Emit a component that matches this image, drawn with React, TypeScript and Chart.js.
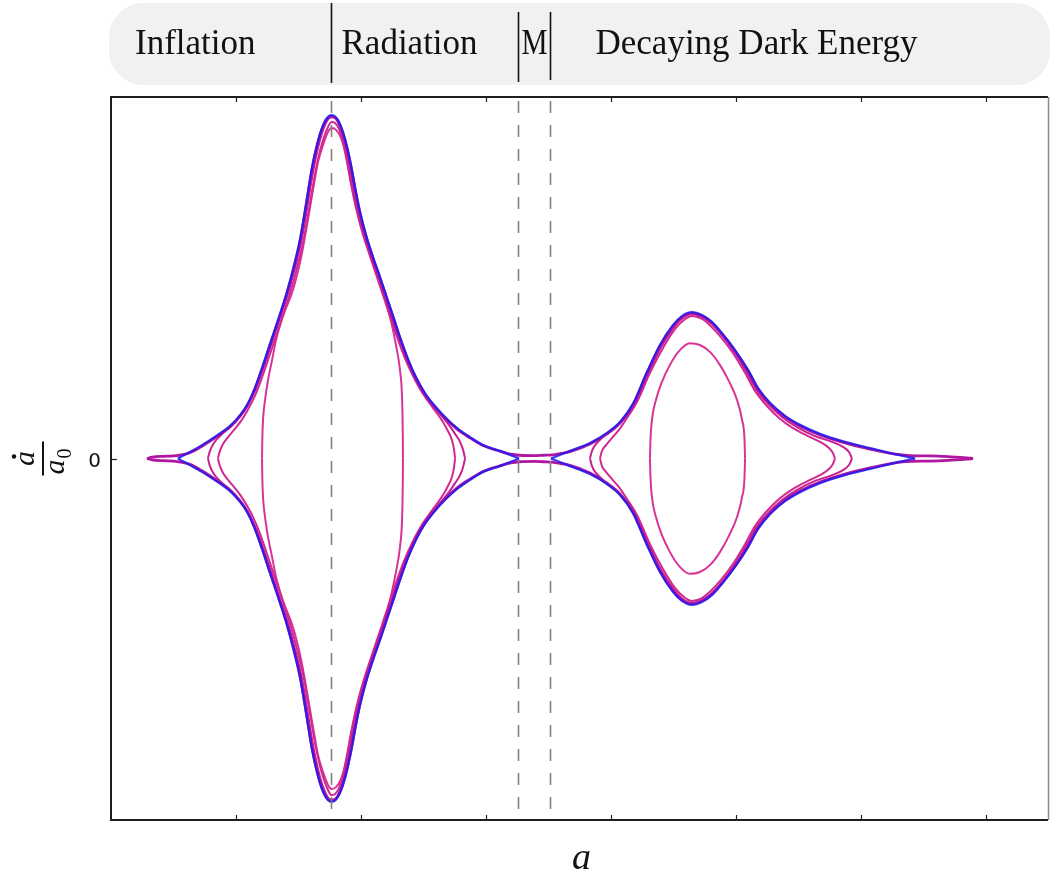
import { useEffect, useRef } from 'react';
import { Chart, registerables } from 'chart.js';

Chart.register(...registerables);

// Era labels shown in the banner above the plot and the boundaries between eras (in units of a)
const eraLabels = ['Inflation', 'Radiation', 'M', 'Decaying Dark Energy'];
const eraBoundaries = [1.762, 3.258, 3.514];

// Tick positions (unlabelled on x)
const xTicks = [1, 2, 3, 4, 5, 6, 7];
const yTicks = [0];
const yTickLabels = ['0'];

// Upper halves (ȧ >= 0) of the phase-space trajectories, a increasing; each is mirrored for ȧ < 0.
// Separatrix around the inflation/radiation hump
const separatrixEarly: number[][] = [
  [0.536, 0], [0.632, 0.018], [0.728, 0.037], [0.84, 0.062], [0.953, 0.09], [1.033, 0.12],
  [1.089, 0.148], [1.145, 0.189], [1.209, 0.25], [1.273, 0.317], [1.345, 0.391], [1.409, 0.461],
  [1.465, 0.533], [1.513, 0.605], [1.545, 0.668], [1.577, 0.737], [1.609, 0.804], [1.641, 0.856],
  [1.673, 0.898], [1.705, 0.928], [1.737, 0.945], [1.765, 0.95], [1.797, 0.945], [1.829, 0.928],
  [1.861, 0.898], [1.893, 0.856], [1.925, 0.804], [1.957, 0.743], [1.993, 0.682], [2.041, 0.618],
  [2.097, 0.557], [2.153, 0.502], [2.209, 0.444], [2.265, 0.386], [2.321, 0.328], [2.377, 0.275],
  [2.441, 0.225], [2.513, 0.181], [2.593, 0.145], [2.681, 0.112], [2.778, 0.082], [2.874, 0.059],
  [2.978, 0.037], [3.114, 0.021], [3.194, 0.01], [3.266, 0],
];
// Separatrix around the dark-energy hump
const separatrixLate: number[][] = [
  [3.522, 0], [3.674, 0.021], [3.834, 0.043], [3.97, 0.071], [4.074, 0.101], [4.178, 0.151],
  [4.29, 0.239], [4.394, 0.314], [4.498, 0.369], [4.57, 0.394], [4.65, 0.405], [4.73, 0.397],
  [4.81, 0.378], [4.89, 0.347], [4.995, 0.3], [5.099, 0.245], [5.179, 0.195], [5.275, 0.154],
  [5.395, 0.118], [5.515, 0.093], [5.675, 0.068], [5.875, 0.046], [6.075, 0.029], [6.276, 0.012],
  [6.436, 0],
];
// Trajectory at the separatrix energy that runs through every era
const fullHistory: number[][] = [
  [0.288, 0], [0.33, 0.004], [0.42, 0.006], [0.5, 0.007], [0.56, 0.01], [0.632, 0.016],
  [0.728, 0.034], [0.84, 0.059], [0.953, 0.087], [1.033, 0.117], [1.089, 0.145], [1.145, 0.186],
  [1.209, 0.247], [1.273, 0.314], [1.345, 0.388], [1.409, 0.458], [1.465, 0.53], [1.513, 0.602],
  [1.545, 0.665], [1.577, 0.734], [1.609, 0.801], [1.641, 0.853], [1.673, 0.895], [1.705, 0.925],
  [1.737, 0.942], [1.765, 0.947], [1.797, 0.942], [1.829, 0.925], [1.861, 0.895], [1.893, 0.853],
  [1.925, 0.801], [1.957, 0.74], [1.993, 0.679], [2.041, 0.615], [2.097, 0.554], [2.153, 0.499],
  [2.209, 0.441], [2.265, 0.383], [2.321, 0.325], [2.377, 0.272], [2.441, 0.222], [2.513, 0.178],
  [2.593, 0.142], [2.681, 0.109], [2.778, 0.079], [2.874, 0.057], [2.978, 0.036], [3.114, 0.02],
  [3.2, 0.012], [3.27, 0.009], [3.39, 0.008], [3.46, 0.009], [3.53, 0.01], [3.6, 0.014],
  [3.674, 0.019], [3.834, 0.04], [3.97, 0.068], [4.074, 0.098], [4.178, 0.148], [4.29, 0.236],
  [4.394, 0.311], [4.498, 0.366], [4.57, 0.391], [4.65, 0.402], [4.73, 0.394], [4.81, 0.375],
  [4.89, 0.344], [4.995, 0.297], [5.099, 0.242], [5.179, 0.192], [5.275, 0.151], [5.395, 0.115],
  [5.515, 0.09], [5.675, 0.065], [5.875, 0.043], [6.075, 0.026], [6.276, 0.012], [6.4, 0.008],
  [6.55, 0.007], [6.7, 0.005], [6.85, 0.002], [6.9, 0],
];
// Bound orbits inside the early hump
const earlyOrbitA: number[][] = [
  [0.776, 0], [0.792, 0.021], [0.824, 0.043], [0.872, 0.062], [0.937, 0.084], [1.001, 0.104],
  [1.057, 0.129], [1.105, 0.156], [1.161, 0.195], [1.225, 0.256], [1.289, 0.322], [1.361, 0.397],
  [1.425, 0.466], [1.481, 0.538], [1.529, 0.61], [1.561, 0.674], [1.593, 0.743], [1.625, 0.806],
  [1.657, 0.859], [1.689, 0.9], [1.721, 0.928], [1.749, 0.942], [1.765, 0.943], [1.781, 0.943],
  [1.813, 0.934], [1.845, 0.906], [1.877, 0.862], [1.909, 0.809], [1.941, 0.748], [1.977, 0.687],
  [2.025, 0.624], [2.081, 0.563], [2.137, 0.505], [2.193, 0.447], [2.249, 0.389], [2.305, 0.331],
  [2.361, 0.278], [2.425, 0.228], [2.497, 0.184], [2.569, 0.151], [2.641, 0.12], [2.705, 0.093],
  [2.754, 0.068], [2.794, 0.046], [2.818, 0.024], [2.834, 0],
];
const earlyOrbitB: number[][] = [
  [0.856, 0], [0.872, 0.021], [0.897, 0.04], [0.937, 0.059], [0.985, 0.079], [1.041, 0.104],
  [1.089, 0.131], [1.137, 0.162], [1.185, 0.201], [1.241, 0.256], [1.305, 0.322], [1.377, 0.397],
  [1.441, 0.466], [1.497, 0.538], [1.545, 0.61], [1.577, 0.674], [1.609, 0.74], [1.641, 0.801],
  [1.673, 0.851], [1.705, 0.889], [1.737, 0.917], [1.765, 0.931], [1.793, 0.928], [1.825, 0.912],
  [1.857, 0.873], [1.889, 0.82], [1.921, 0.759], [1.961, 0.693], [2.009, 0.629], [2.065, 0.568],
  [2.121, 0.51], [2.177, 0.452], [2.233, 0.394], [2.289, 0.336], [2.345, 0.284], [2.409, 0.234],
  [2.473, 0.192], [2.537, 0.159], [2.601, 0.129], [2.657, 0.101], [2.697, 0.076], [2.729, 0.051],
  [2.745, 0.026], [2.754, 0],
];
const earlyOrbitC: number[][] = [
  [1.209, 0], [1.211, 0.051], [1.217, 0.107], [1.233, 0.162], [1.257, 0.217], [1.289, 0.272],
  [1.321, 0.328], [1.377, 0.394], [1.457, 0.467], [1.521, 0.555], [1.569, 0.646], [1.617, 0.743],
  [1.657, 0.82], [1.697, 0.867], [1.737, 0.903], [1.765, 0.914], [1.801, 0.909], [1.841, 0.887],
  [1.881, 0.842], [1.913, 0.781], [1.961, 0.698], [2.025, 0.621], [2.081, 0.56], [2.137, 0.502],
  [2.193, 0.441], [2.241, 0.38], [2.281, 0.314], [2.313, 0.245], [2.329, 0.176], [2.334, 0.107],
  [2.336, 0.051], [2.337, 0],
];
// Bound orbits inside the late hump
const lateOrbitA: number[][] = [
  [3.834, 0], [3.85, 0.021], [3.882, 0.04], [3.93, 0.057], [3.994, 0.076], [4.082, 0.101],
  [4.186, 0.148], [4.298, 0.234], [4.402, 0.308], [4.506, 0.363], [4.578, 0.389], [4.65, 0.4],
  [4.73, 0.392], [4.81, 0.372], [4.89, 0.342], [4.986, 0.297], [5.083, 0.242], [5.163, 0.192],
  [5.259, 0.151], [5.371, 0.115], [5.491, 0.087], [5.635, 0.062], [5.771, 0.046], [5.859, 0.032],
  [5.907, 0.018], [5.931, 0],
];
const lateOrbitB: number[][] = [
  [3.914, 0], [3.93, 0.021], [3.962, 0.037], [4.01, 0.057], [4.066, 0.079], [4.13, 0.112],
  [4.21, 0.156], [4.314, 0.237], [4.418, 0.306], [4.514, 0.358], [4.586, 0.383], [4.65, 0.394],
  [4.73, 0.386], [4.802, 0.366], [4.882, 0.336], [4.978, 0.292], [5.075, 0.237], [5.155, 0.187],
  [5.243, 0.148], [5.347, 0.112], [5.459, 0.084], [5.579, 0.062], [5.675, 0.046], [5.747, 0.029],
  [5.779, 0.015], [5.795, 0],
];
const lateOrbitC: number[][] = [
  [4.314, 0], [4.318, 0.051], [4.33, 0.107], [4.362, 0.162], [4.41, 0.212], [4.474, 0.259],
  [4.546, 0.297], [4.634, 0.319], [4.714, 0.314], [4.794, 0.295], [4.874, 0.259], [4.946, 0.214],
  [5.011, 0.162], [5.051, 0.107], [5.071, 0.051], [5.075, 0],
];

type P = { x: number; y: number };
const upperHalf = (a: number[][]): P[] => a.map(([x, y]) => ({ x, y }));
const lowerHalf = (a: number[][]): P[] => a.map(([x, y]) => ({ x, y: -y }));

const BLUE = 'rgba(34,26,240,0.85)';
const DEEP = 'rgb(176,22,160)';
const PINK_A = 'rgb(200,32,146)';
const PINK_B = 'rgb(210,40,146)';
const PINK_C = 'rgb(216,52,152)';

export default function App() {
  const ref = useRef<HTMLCanvasElement | null>(null);

  useEffect(() => {
    const canvas = ref.current;
    if (!canvas) return;

    const half = (data: P[], color: string, width: number) => ({
      data,
      showLine: true,
      borderColor: color,
      backgroundColor: color,
      borderWidth: width,
      pointRadius: 0,
      pointHoverRadius: 0,
      cubicInterpolationMode: 'monotone',
      fill: false,
    });
    // one trajectory = its ȧ > 0 branch plus the mirrored ȧ < 0 branch
    const orbit = (upper: number[][], color: string, width: number) => [
      half(upperHalf(upper), color, width),
      half(lowerHalf(upper), color, width),
    ];

    const decorations = {
      id: 'decorations',
      afterDatasetsDraw(chart: any) {
        const { ctx, chartArea: ca, scales } = chart;
        const xs = scales.x;
        const ys = scales.y;
        ctx.save();

        // era boundaries
        ctx.strokeStyle = '#7f7f7f';
        ctx.lineWidth = 1.6;
        ctx.setLineDash([12, 12]);
        eraBoundaries.forEach((b) => {
          const px = Math.round(xs.getPixelForValue(b)) + 0.5;
          ctx.beginPath();
          ctx.moveTo(px, ca.top + 4);
          ctx.lineTo(px, ca.bottom);
          ctx.stroke();
        });
        ctx.setLineDash([]);

        // inward ticks
        ctx.strokeStyle = '#222';
        ctx.lineWidth = 1.2;
        xTicks.forEach((t) => {
          const px = Math.round(xs.getPixelForValue(t)) + 0.5;
          ctx.beginPath();
          ctx.moveTo(px, ca.bottom);
          ctx.lineTo(px, ca.bottom - 5);
          ctx.moveTo(px, ca.top);
          ctx.lineTo(px, ca.top + 5);
          ctx.stroke();
        });
        yTicks.forEach((t, i) => {
          const py = Math.round(ys.getPixelForValue(t)) + 0.5;
          ctx.beginPath();
          ctx.moveTo(ca.left, py);
          ctx.lineTo(ca.left + 6, py);
          ctx.stroke();
          ctx.fillStyle = '#111';
          ctx.font = '20px "DejaVu Sans"';
          ctx.textAlign = 'right';
          ctx.textBaseline = 'alphabetic';
          ctx.fillText(yTickLabels[i], 101, py + 7);
        });

        // frame
        ctx.strokeStyle = '#1e1e1e';
        ctx.lineWidth = 2;
        ctx.beginPath();
        ctx.moveTo(ca.right, ca.top);
        ctx.lineTo(ca.left, ca.top);
        ctx.lineTo(ca.left, ca.bottom);
        ctx.lineTo(ca.right, ca.bottom);
        ctx.stroke();
        ctx.strokeStyle = '#8a8a8a';
        ctx.lineWidth = 1.5;
        ctx.beginPath();
        ctx.moveTo(ca.right + 0.5, ca.top);
        ctx.lineTo(ca.right + 0.5, ca.bottom);
        ctx.stroke();

        // x-axis title
        ctx.fillStyle = '#111';
        ctx.font = 'italic 38px "Liberation Serif"';
        ctx.textAlign = 'center';
        ctx.fillText('a', (ca.left + ca.right) / 2 + 2, 869);

        // y-axis title: ȧ / a₀, rotated
        ctx.save();
        ctx.translate(43, (ca.top + ca.bottom) / 2);
        ctx.rotate(-Math.PI / 2);
        ctx.lineWidth = 2;
        ctx.strokeStyle = '#111';
        ctx.beginPath();
        ctx.moveTo(-17, 0);
        ctx.lineTo(17, 0);
        ctx.stroke();
        ctx.font = 'italic 30px "Liberation Serif"';
        ctx.textAlign = 'center';
        ctx.fillText('a', 0, -9);
        ctx.beginPath();
        ctx.arc(2, -29, 2.2, 0, Math.PI * 2);
        ctx.fill();
        ctx.textAlign = 'left';
        ctx.fillText('a', -16, 21);
        ctx.font = '20px "Liberation Serif"';
        ctx.fillText('0', 0, 28);
        ctx.restore();

        // era banner
        ctx.fillStyle = '#f1f1f1';
        ctx.beginPath();
        ctx.roundRect(109, 3, 941, 82, 34);
        ctx.fill();
        const bx = eraBoundaries.map((b) => Math.round(xs.getPixelForValue(b)) + 0.5);
        ctx.strokeStyle = '#111';
        ctx.lineWidth = 1.6;
        ctx.beginPath();
        ctx.moveTo(bx[0], 3);
        ctx.lineTo(bx[0], 83);
        ctx.moveTo(bx[1], 12);
        ctx.lineTo(bx[1], 82);
        ctx.moveTo(bx[2], 12);
        ctx.lineTo(bx[2], 80);
        ctx.stroke();
        ctx.fillStyle = '#111';
        ctx.font = '35px "Liberation Serif"';
        ctx.textBaseline = 'alphabetic';
        ctx.textAlign = 'left';
        ctx.fillText(eraLabels[0], 135, 54);
        ctx.fillText(eraLabels[1], bx[0] + 10, 54);
        ctx.textAlign = 'center';
        ctx.fillText(eraLabels[2], (bx[1] + bx[2]) / 2, 54, bx[2] - bx[1] - 6);
        ctx.textAlign = 'left';
        ctx.fillText(eraLabels[3], bx[2] + 45, 54);

        ctx.restore();
      },
    };

    // index 0 is drawn last, so the separatrices sit on top of the trajectory beneath them
    const chart = new Chart(canvas, {
      type: 'scatter',
      data: {
        datasets: [
          ...orbit(separatrixEarly, BLUE, 2.3),
          ...orbit(separatrixLate, BLUE, 2.3),
          ...orbit(fullHistory, DEEP, 2.8),
          ...orbit(earlyOrbitA, PINK_A, 2),
          ...orbit(earlyOrbitB, PINK_B, 2),
          ...orbit(earlyOrbitC, PINK_C, 2),
          ...orbit(lateOrbitA, PINK_A, 2),
          ...orbit(lateOrbitB, PINK_B, 2),
          ...orbit(lateOrbitC, PINK_C, 2),
        ] as any,
      },
      options: {
        responsive: false,
        animation: false,
        devicePixelRatio: 1,
        layout: { padding: { left: 111, right: 2, top: 97, bottom: 57 } },
        plugins: { legend: { display: false }, tooltip: { enabled: false } },
        events: [],
        scales: {
          x: { type: 'linear', min: 0, max: 7.5, display: false },
          y: { type: 'linear', min: -1, max: 1, display: false },
        },
      },
      plugins: [decorations],
    });

    return () => chart.destroy();
  }, []);

  return (
    <div style={{ position: 'fixed', left: 0, top: 0, width: 1050, height: 877, background: '#fff' }}>
      <canvas ref={ref} width={1050} height={877} />
    </div>
  );
}
